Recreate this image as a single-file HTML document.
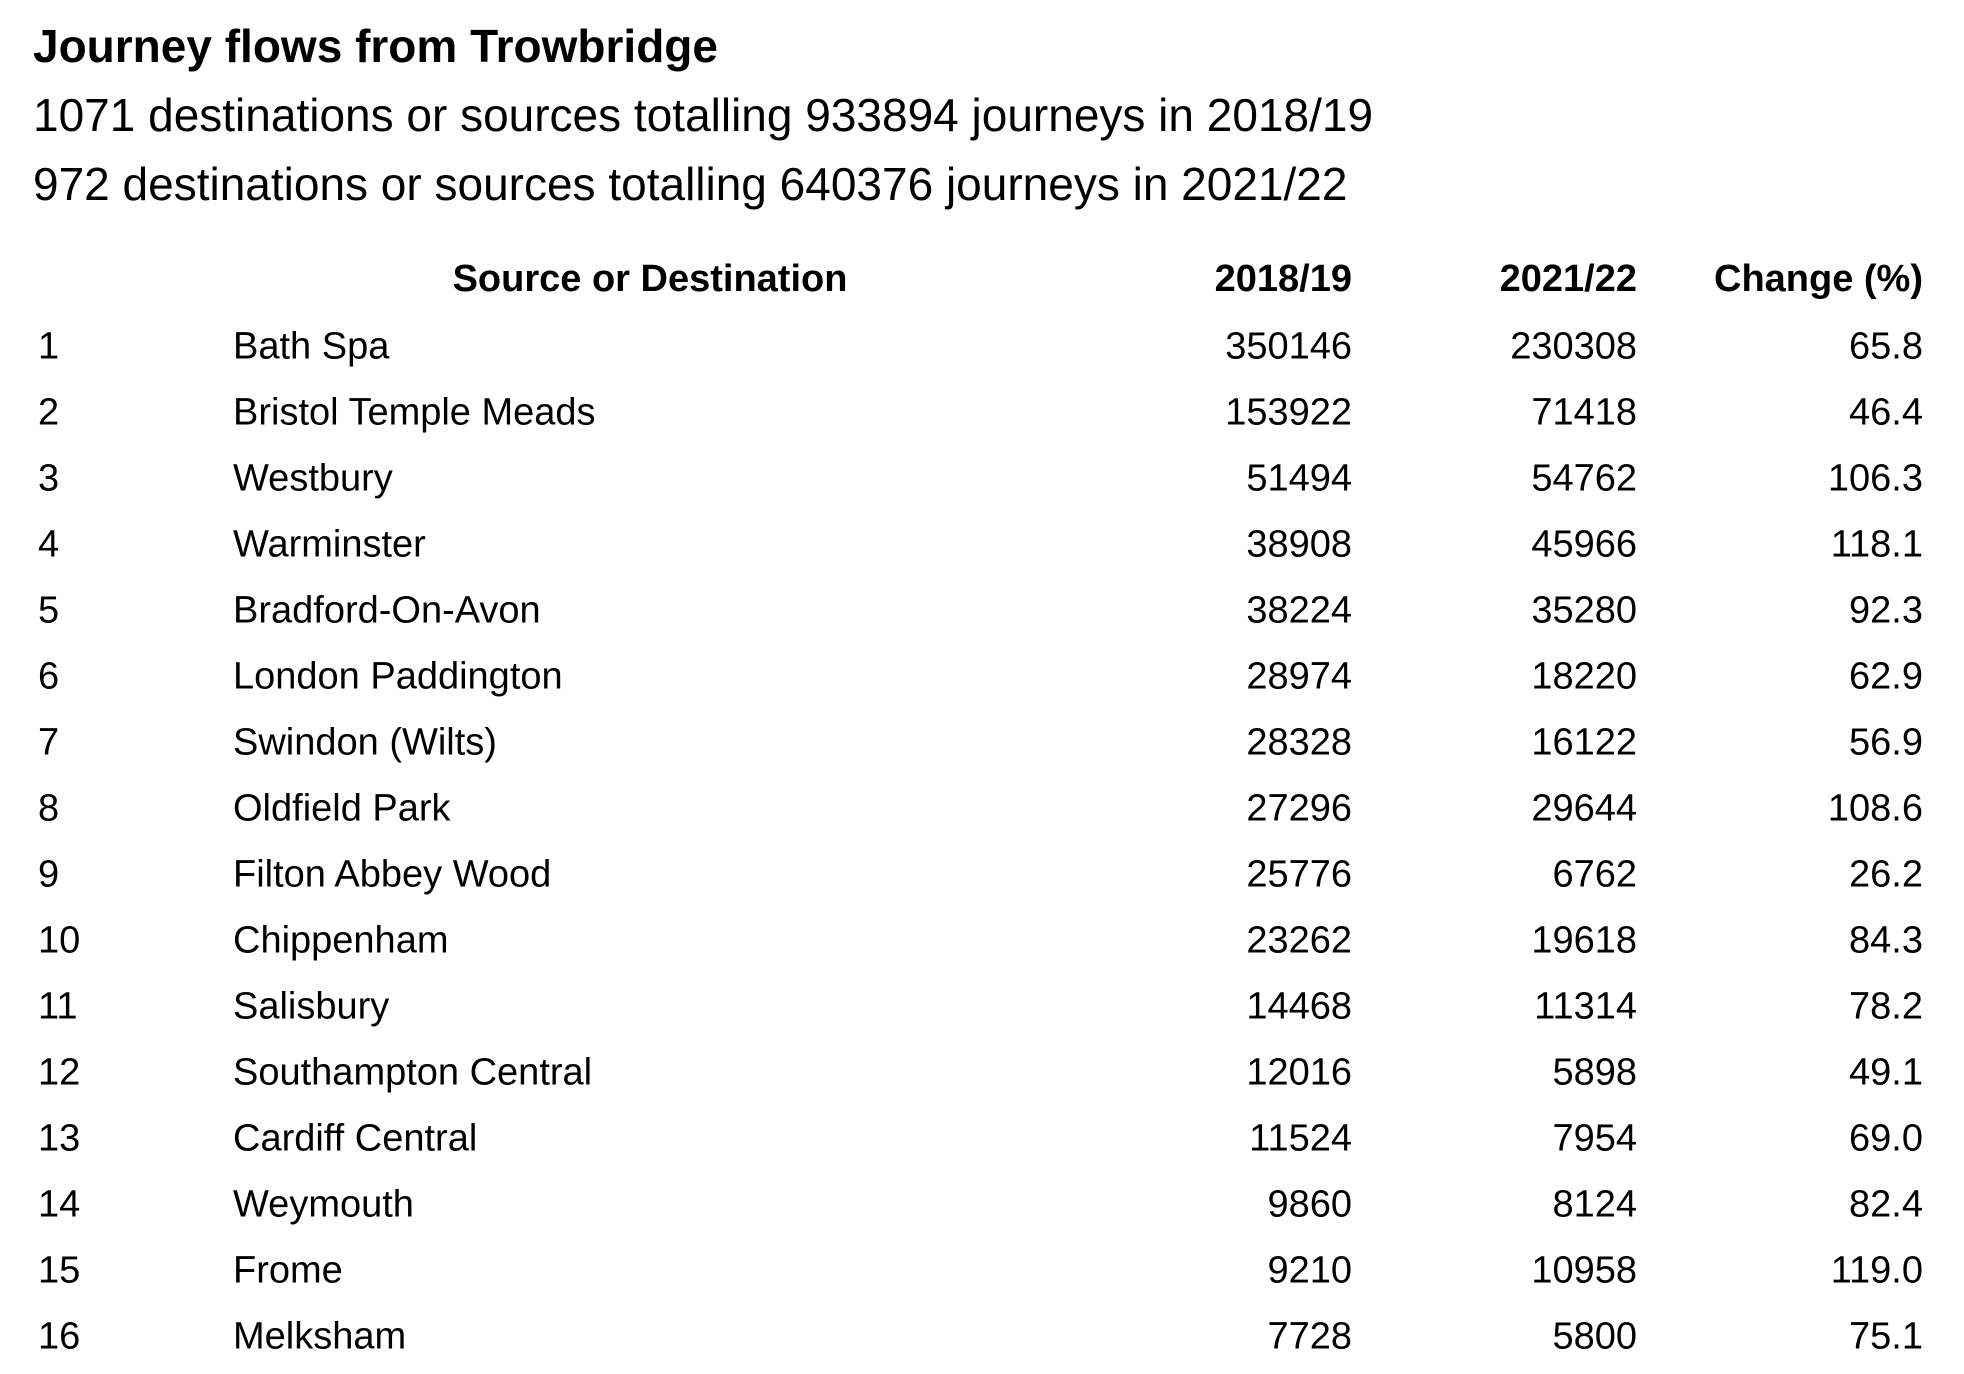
<!DOCTYPE html>
<html><head><meta charset="utf-8"><style>
html,body{margin:0;padding:0;background:#fff;}
svg{display:block;font-family:"Liberation Sans",Arial,sans-serif;}
</style></head><body>
<svg width="1964" height="1374" viewBox="0 0 1964 1374" xmlns="http://www.w3.org/2000/svg">
<rect width="1964" height="1374" fill="#fff"/>
<g fill="#000">
<text x="33" y="62" font-size="46" font-weight="bold">Journey flows from Trowbridge</text>
<text x="33" y="131" font-size="46">1071 destinations or sources totalling 933894 journeys in 2018/19</text>
<text x="33" y="200" font-size="46">972 destinations or sources totalling 640376 journeys in 2021/22</text>
<g font-size="38" font-weight="bold">
<text x="650" y="291" text-anchor="middle">Source or Destination</text>
<text x="1352" y="291" text-anchor="end">2018/19</text>
<text x="1637" y="291" text-anchor="end">2021/22</text>
<text x="1923" y="291" text-anchor="end">Change (%)</text>
</g>
<g font-size="38">
<g transform="translate(0,358.5)"><text x="38">1</text><text x="233">Bath Spa</text><text x="1352" text-anchor="end">350146</text><text x="1637" text-anchor="end">230308</text><text x="1923" text-anchor="end">65.8</text></g>
<g transform="translate(0,424.5)"><text x="38">2</text><text x="233">Bristol Temple Meads</text><text x="1352" text-anchor="end">153922</text><text x="1637" text-anchor="end">71418</text><text x="1923" text-anchor="end">46.4</text></g>
<g transform="translate(0,490.5)"><text x="38">3</text><text x="233">Westbury</text><text x="1352" text-anchor="end">51494</text><text x="1637" text-anchor="end">54762</text><text x="1923" text-anchor="end">106.3</text></g>
<g transform="translate(0,556.5)"><text x="38">4</text><text x="233">Warminster</text><text x="1352" text-anchor="end">38908</text><text x="1637" text-anchor="end">45966</text><text x="1923" text-anchor="end">118.1</text></g>
<g transform="translate(0,622.5)"><text x="38">5</text><text x="233">Bradford-On-Avon</text><text x="1352" text-anchor="end">38224</text><text x="1637" text-anchor="end">35280</text><text x="1923" text-anchor="end">92.3</text></g>
<g transform="translate(0,688.5)"><text x="38">6</text><text x="233">London Paddington</text><text x="1352" text-anchor="end">28974</text><text x="1637" text-anchor="end">18220</text><text x="1923" text-anchor="end">62.9</text></g>
<g transform="translate(0,754.5)"><text x="38">7</text><text x="233">Swindon (Wilts)</text><text x="1352" text-anchor="end">28328</text><text x="1637" text-anchor="end">16122</text><text x="1923" text-anchor="end">56.9</text></g>
<g transform="translate(0,820.5)"><text x="38">8</text><text x="233">Oldfield Park</text><text x="1352" text-anchor="end">27296</text><text x="1637" text-anchor="end">29644</text><text x="1923" text-anchor="end">108.6</text></g>
<g transform="translate(0,886.5)"><text x="38">9</text><text x="233">Filton Abbey Wood</text><text x="1352" text-anchor="end">25776</text><text x="1637" text-anchor="end">6762</text><text x="1923" text-anchor="end">26.2</text></g>
<g transform="translate(0,952.5)"><text x="38">10</text><text x="233">Chippenham</text><text x="1352" text-anchor="end">23262</text><text x="1637" text-anchor="end">19618</text><text x="1923" text-anchor="end">84.3</text></g>
<g transform="translate(0,1018.5)"><text x="38">11</text><text x="233">Salisbury</text><text x="1352" text-anchor="end">14468</text><text x="1637" text-anchor="end">11314</text><text x="1923" text-anchor="end">78.2</text></g>
<g transform="translate(0,1084.5)"><text x="38">12</text><text x="233">Southampton Central</text><text x="1352" text-anchor="end">12016</text><text x="1637" text-anchor="end">5898</text><text x="1923" text-anchor="end">49.1</text></g>
<g transform="translate(0,1150.5)"><text x="38">13</text><text x="233">Cardiff Central</text><text x="1352" text-anchor="end">11524</text><text x="1637" text-anchor="end">7954</text><text x="1923" text-anchor="end">69.0</text></g>
<g transform="translate(0,1216.5)"><text x="38">14</text><text x="233">Weymouth</text><text x="1352" text-anchor="end">9860</text><text x="1637" text-anchor="end">8124</text><text x="1923" text-anchor="end">82.4</text></g>
<g transform="translate(0,1282.5)"><text x="38">15</text><text x="233">Frome</text><text x="1352" text-anchor="end">9210</text><text x="1637" text-anchor="end">10958</text><text x="1923" text-anchor="end">119.0</text></g>
<g transform="translate(0,1348.5)"><text x="38">16</text><text x="233">Melksham</text><text x="1352" text-anchor="end">7728</text><text x="1637" text-anchor="end">5800</text><text x="1923" text-anchor="end">75.1</text></g>
</g>
</g>
</svg>
</body></html>
